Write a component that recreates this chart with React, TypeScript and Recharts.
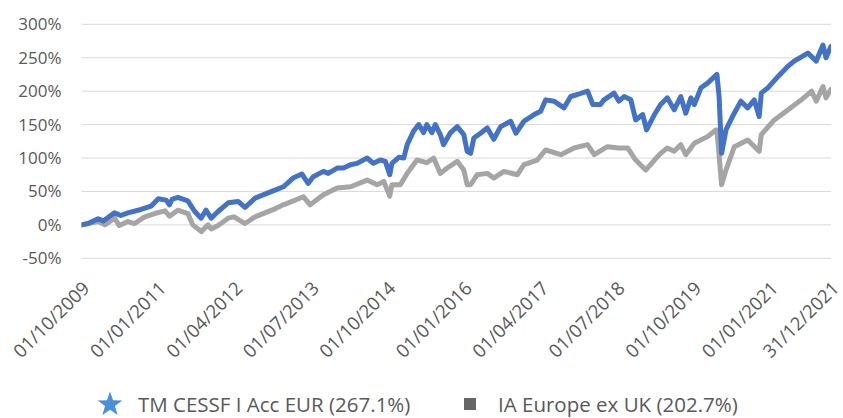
import React from "react";
import { LineChart, Line, XAxis, YAxis, CartesianGrid, Legend } from "recharts";

const FUND_NAME = "TM CESSF I Acc EUR (267.1%)";
const SECTOR_NAME = "IA Europe ex UK (202.7%)";

const TICK_LABELS = [
  "01/10/2009", "01/01/2011", "01/04/2012", "01/07/2013", "01/10/2014", "01/01/2016",
  "01/04/2017", "01/07/2018", "01/10/2019", "01/01/2021", "31/12/2021",
];
const Y_TICKS = [-50, 0, 50, 100, 150, 200, 250, 300];

const FUND_DATES = [
  "2009-10-01", "2009-11-09", "2010-01-08", "2010-02-10", "2010-04-16", "2010-05-23", "2010-07-05", "2010-09-21",
  "2010-11-20", "2011-01-02", "2011-02-18", "2011-03-10", "2011-03-25", "2011-04-29", "2011-06-28", "2011-08-08",
  "2011-09-15", "2011-10-14", "2011-11-14", "2011-12-25", "2012-02-24", "2012-04-23", "2012-06-03",
  "2012-08-02", "2012-09-30", "2012-11-29", "2013-01-18", "2013-03-17", "2013-05-09", "2013-06-15",
  "2013-07-15", "2013-09-14", "2013-10-13", "2013-12-05", "2014-01-12", "2014-02-23", "2014-04-03",
  "2014-06-02", "2014-07-09", "2014-08-20", "2014-09-19", "2014-10-15", "2014-10-28", "2014-12-08",
  "2015-01-07", "2015-01-27", "2015-03-06", "2015-04-06", "2015-05-05", "2015-05-24", "2015-06-24",
  "2015-07-14", "2015-08-13", "2015-09-01", "2015-10-13", "2015-11-22", "2015-12-31", "2016-01-20",
  "2016-02-10", "2016-02-29", "2016-04-09", "2016-05-19", "2016-06-27", "2016-08-07", "2016-10-06",
  "2016-11-06", "2016-12-24", "2017-02-23", "2017-04-03", "2017-05-03", "2017-06-21", "2017-08-20",
  "2017-09-29", "2017-11-09", "2018-01-08", "2018-02-08", "2018-03-26", "2018-04-16", "2018-06-15",
  "2018-07-14", "2018-08-14", "2018-09-23", "2018-10-22", "2018-12-03", "2018-12-26", "2019-02-11",
  "2019-03-20", "2019-04-29", "2019-06-09", "2019-07-18", "2019-08-17", "2019-09-17", "2019-10-07",
  "2019-11-16", "2019-12-25", "2020-02-19", "2020-03-03", "2020-03-18", "2020-04-13", "2020-05-22",
  "2020-07-11", "2020-08-21", "2020-09-29", "2020-10-28", "2020-11-10", "2020-12-19", "2021-02-18",
  "2021-04-17", "2021-05-25", "2021-08-15", "2021-10-04", "2021-11-13", "2021-12-01", "2021-12-31",
];
const FUND_VALUES = [
  0, 2, 9, 6, 18, 14, 18, 23,
  28, 39, 37, 30, 38, 41, 36, 20,
  10, 22, 10, 20, 33, 35, 26,
  40, 46, 52, 57, 70, 76, 62,
  72, 80, 77, 85, 85, 90, 92,
  100, 92, 97, 95, 75, 92, 101,
  100, 120, 140, 150, 138, 150, 138,
  150, 135, 120, 138, 147, 135, 110,
  107, 130, 137, 145, 128, 147, 155,
  137, 155, 165, 170, 187, 185, 175,
  192, 195, 200, 180, 180, 187, 197,
  185, 192, 187, 157, 165, 142, 165,
  180, 190, 172, 192, 167, 190, 180,
  205, 212, 225, 192, 107, 142, 162,
  185, 175, 187, 162, 197, 205, 222,
  237, 245, 257, 245, 269, 250, 267.1,
];

const SECTOR_DATES = [
  "2009-10-01", "2010-01-08", "2010-02-17", "2010-04-16", "2010-05-15", "2010-07-05", "2010-08-14",
  "2010-10-13", "2010-12-12", "2011-02-11", "2011-03-10", "2011-04-29", "2011-06-28", "2011-07-27",
  "2011-09-17", "2011-10-26", "2011-11-14", "2011-12-25", "2012-02-24", "2012-03-30", "2012-06-03",
  "2012-08-02", "2012-09-30", "2012-11-29", "2013-01-18", "2013-05-18", "2013-06-27", "2013-09-14",
  "2013-12-05", "2014-02-23", "2014-06-02", "2014-08-01", "2014-09-09", "2014-10-15", "2014-10-28",
  "2014-12-17", "2015-01-27", "2015-03-26", "2015-05-24", "2015-07-04", "2015-08-13", "2015-09-23",
  "2015-11-22", "2015-12-31", "2016-01-20", "2016-02-10", "2016-03-20", "2016-05-19", "2016-06-27",
  "2016-08-26", "2016-11-15", "2016-12-24", "2017-03-13", "2017-05-03", "2017-08-01", "2017-10-19",
  "2018-01-08", "2018-02-17", "2018-05-06", "2018-07-14", "2018-09-04", "2018-10-22", "2018-12-21",
  "2019-02-11", "2019-03-20", "2019-04-29", "2019-06-09", "2019-07-18", "2019-08-17", "2019-10-07",
  "2019-12-25", "2020-02-13", "2020-02-19", "2020-03-18", "2020-04-13", "2020-06-02", "2020-08-21",
  "2020-10-28", "2020-11-10", "2021-01-27", "2021-04-17", "2021-07-07", "2021-09-06", "2021-10-04",
  "2021-11-13", "2021-12-01", "2021-12-31",
];
const SECTOR_VALUES = [
  0, 5, 0, 10, -1, 5, 2,
  12, 17, 21, 13, 22, 17, 0,
  -10, 0, -6, -1, 10, 12, 2,
  12, 18, 24, 30, 42, 30, 45,
  55, 57, 67, 60, 65, 43, 60,
  60, 77, 97, 93, 100, 77, 85,
  95, 82, 60, 60, 75, 77, 70,
  80, 75, 90, 97, 112, 105, 115,
  120, 105, 117, 115, 115, 97, 82,
  97, 107, 115, 110, 120, 105, 122,
  132, 142, 142, 60, 82, 117, 127,
  110, 135, 157, 172, 187, 200, 185,
  207, 190, 202.7,
];

const FONT = "'Open Sans', 'Noto Sans', sans-serif";
const TEXT_COLOR = "#595959";
const FUND_COLOR = "#4472C4";
const SECTOR_COLOR = "#A5A5A5";
const FUND_ICON = "#4B8FD8";
const SECTOR_ICON = "#666666";

const toMs = (iso: string) => Date.parse(iso + "T00:00:00Z");
const fromLabel = (s: string) => {
  const [d, m, y] = s.split("/").map(Number);
  return Date.UTC(y, m - 1, d);
};
const pad = (n: number) => (n < 10 ? "0" + n : "" + n);
const fmt = (ms: number) => {
  const d = new Date(ms);
  return `${pad(d.getUTCDate())}/${pad(d.getUTCMonth() + 1)}/${d.getUTCFullYear()}`;
};

const fundData = FUND_DATES.map((d, i) => ({ t: toMs(d), v: FUND_VALUES[i] }));
const sectorData = SECTOR_DATES.map((d, i) => ({ t: toMs(d), v: SECTOR_VALUES[i] }));
const xTicks = TICK_LABELS.map(fromLabel);
const xDomain = [xTicks[0], xTicks[xTicks.length - 1]];

const XTick = (props: any) => {
  const { x, y, payload } = props;
  return (
    <g transform={`translate(${x},${y})`}>
      <text
        x={0}
        y={0}
        dy="0.71em"
        textAnchor="end"
        transform="rotate(-45)"
        fill={TEXT_COLOR}
        fontSize={18.5}
        fontFamily={FONT}
      >
        {fmt(payload.value)}
      </text>
    </g>
  );
};

const starPoints = (cx: number, cy: number, R: number, r: number) => {
  const pts: string[] = [];
  for (let k = 0; k < 10; k++) {
    const rad = k % 2 === 0 ? R : r;
    const a = ((-90 + k * 36) * Math.PI) / 180;
    pts.push(`${(cx + rad * Math.cos(a)).toFixed(2)},${(cy + rad * Math.sin(a)).toFixed(2)}`);
  }
  return pts.join(" ");
};

const LegendContent = () => (
  <div
    style={{
      position: "relative",
      width: 843,
      height: 20,
      fontFamily: FONT,
      fontSize: 20.5,
      color: TEXT_COLOR,
      lineHeight: "20px",
      whiteSpace: "nowrap",
    }}
  >
    <svg width={26} height={26} style={{ position: "absolute", left: 97, top: -3 }}>
      <polygon points={starPoints(13, 13.5, 13, 5.2)} fill={FUND_ICON} />
    </svg>
    <span style={{ position: "absolute", left: 138, top: 0 }}>{FUND_NAME}</span>
    <svg width={12} height={12} style={{ position: "absolute", left: 464, top: 4 }}>
      <rect x={0} y={0} width={12} height={12} fill={SECTOR_ICON} />
    </svg>
    <span style={{ position: "absolute", left: 498, top: 0 }}>{SECTOR_NAME}</span>
  </div>
);

export default function App() {
  return (
    <div style={{ position: "absolute", left: 0, top: 0, width: 843, height: 418, background: "#fff" }}>
      <LineChart
        width={843}
        height={418}
        margin={{ top: 24.3, right: 12, left: 21.5, bottom: 59.7 }}
      >
        <CartesianGrid horizontal vertical={false} stroke="#D9D9D9" strokeWidth={1} />
        <XAxis
          dataKey="t"
          type="number"
          domain={xDomain}
          ticks={xTicks}
          interval={0}
          allowDataOverflow
          axisLine={false}
          tickLine={false}
          tickSize={0}
          tickMargin={22}
          height={100}
          tick={<XTick />}
        />
        <YAxis
          type="number"
          domain={[-50, 300]}
          ticks={Y_TICKS}
          interval={0}
          width={60}
          axisLine={false}
          tickLine={false}
          tickSize={0}
          tickMargin={20}
          tickFormatter={(v: number) => `${v}%`}
          tick={{ fill: TEXT_COLOR, fontSize: 17, fontFamily: FONT }}
        />
        <Legend
          layout="horizontal"
          verticalAlign="middle"
          align="center"
          wrapperStyle={{ left: 0, top: 394, width: 843, height: 20 }}
          content={<LegendContent />}
        />
        <Line
          data={sectorData}
          dataKey="v"
          name={SECTOR_NAME}
          type="linear"
          stroke={SECTOR_COLOR}
          strokeWidth={5}
          strokeLinejoin="round"
          strokeLinecap="round"
          dot={false}
          activeDot={false}
          isAnimationActive={false}
        />
        <Line
          data={fundData}
          dataKey="v"
          name={FUND_NAME}
          type="linear"
          stroke={FUND_COLOR}
          strokeWidth={5}
          strokeLinejoin="round"
          strokeLinecap="round"
          dot={false}
          activeDot={false}
          isAnimationActive={false}
        />
      </LineChart>
    </div>
  );
}
